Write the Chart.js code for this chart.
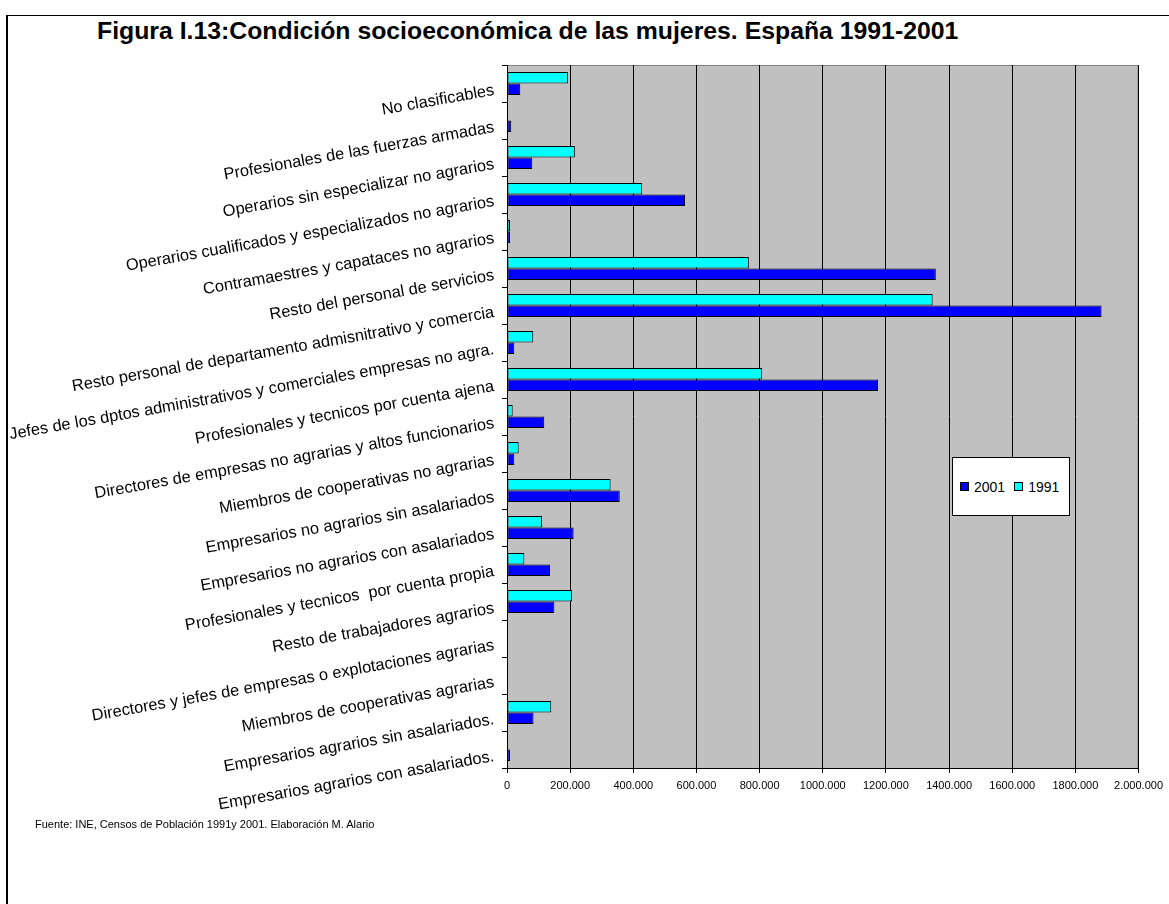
<!DOCTYPE html>
<html>
<head>
<meta charset="utf-8">
<script src="https://cdn.jsdelivr.net/npm/chart.js@4.4.0/dist/chart.umd.min.js"></script>
<style>
  body { margin: 0; background: #fff; width: 1169px; height: 904px; overflow: hidden; position: relative; font-family: "Liberation Sans", Arial, sans-serif; }
  #frame { position: absolute; left: 6px; top: 15px; width: 1300px; height: 1000px; border-left: 2px solid #000; border-top: 1px solid #000; }
  #title { position: absolute; left: 97px; top: 17px; font-weight: bold; font-size: 24.8px; white-space: nowrap; }
  #chart { position: absolute; left: 0; top: 0; }
  #legend { position: absolute; left: 952px; top: 457px; width: 118px; height: 59px; box-sizing: border-box; border: 1px solid #000; background: #fff; display: flex; align-items: center; padding-left: 7px; font-size: 14px; }
  #legend span.item { display: flex; align-items: center; margin-right: 9px; }
  #legend i { display: inline-block; width: 7px; height: 7px; border: 1px solid #000; margin-right: 5px; }
  #source { position: absolute; left: 35px; top: 818px; font-size: 11px; white-space: nowrap; }
</style>
</head>
<body>
<div id="frame"></div>
<div id="title">Figura I.13:Condición socioeconómica de las mujeres. España 1991-2001</div>
<canvas id="chart" width="1169" height="904"></canvas>
<div id="legend"></div>
<div id="source">Fuente: INE, Censos de Población 1991y 2001. Elaboración M. Alario</div>
<script>
'use strict';

const categories = [
    'No clasificables',
    'Profesionales de las fuerzas armadas',
    'Operarios sin especializar no agrarios',
    'Operarios cualificados y especializados no agrarios',
    'Contramaestres y capataces no agrarios',
    'Resto del personal de servicios',
    'Resto personal de departamento admisnitrativo y comercia',
    'Jefes de los dptos administrativos y comerciales empresas no agra.',
    'Profesionales y tecnicos por cuenta ajena',
    'Directores de empresas no agrarias y altos funcionarios',
    'Miembros de cooperativas no agrarias',
    'Empresarios no agrarios sin asalariados',
    'Empresarios no agrarios con asalariados',
    'Profesionales y tecnicos  por cuenta propia',
    'Resto de trabajadores agrarios',
    'Directores y jefes de empresas o explotaciones agrarias',
    'Miembros de cooperativas agrarias',
    'Empresarios agrarios sin asalariados.',
    'Empresarios agrarios con asalariados.',
];
const values1991 = [193000, 0, 215000, 428000, 9500, 766000, 1348000, 83000, 808000, 18000, 37000, 328000, 111000, 55000, 206000, 0, 0, 140000, 0];
const values2001 = [42000, 13500, 80000, 564000, 9500, 1358000, 1883000, 23000, 1175000, 118000, 23000, 357000, 211000, 136000, 150000, 0, 0, 84000, 9500];
const xTickLabels = ['0', '200.000', '400.000', '600.000', '800.000', '1000.000', '1200.000', '1400.000', '1600.000', '1800.000', '2.000.000'];

// grey plot area like the old Excel chart
const plotBg = {
    id: 'plotBg',
    beforeDraw(chart) {
        const { ctx, chartArea: a } = chart;
        ctx.save();
        ctx.fillStyle = '#c0c0c0';
        ctx.fillRect(a.left, a.top, a.width, a.height);
        ctx.strokeStyle = '#808080';
        ctx.lineWidth = 1;
        ctx.strokeRect(a.left + 0.5, a.top + 0.5, a.width - 1, a.height);
        ctx.restore();
    },
};

const chart = new Chart(document.getElementById('chart'), {
    type: 'bar',
    data: {
        labels: categories,
        datasets: [
            { label: '1991', data: values1991, backgroundColor: '#00ffff', borderColor: '#000', borderWidth: 1, borderSkipped: false },
            { label: '2001', data: values2001, backgroundColor: '#0000ff', borderColor: '#000', borderWidth: 1, borderSkipped: false },
        ],
    },
    options: {
        responsive: false, animation: false, indexAxis: 'y',
        datasets: { bar: { categoryPercentage: 0.62, barPercentage: 1.0 } },
        layout: { padding: { top: 65, right: 27, bottom: 106, left: 0 } },
        plugins: { legend: { display: false }, tooltip: { enabled: false } },
        scales: {
            x: {
                type: 'linear', min: 0, max: 2000000,
                ticks: { stepSize: 200000, color: '#000', font: { family: 'Liberation Sans', size: 11 }, padding: 6, maxRotation: 0, autoSkip: false, callback: v => xTickLabels[Math.round(v / 200000)] },
                grid: { color: '#000', lineWidth: 1, tickLength: 5, tickColor: '#000' },
                border: { display: true, color: '#000' },
                afterFit: s => { s.height = 30; },
            },
            y: {
                ticks: { color: '#000', font: { family: 'Liberation Sans', size: 16.4 }, minRotation: 10, maxRotation: 10, padding: 8, labelOffset: 7, autoSkip: false },
                grid: { offset: true, drawOnChartArea: false, tickLength: 5, tickColor: '#000' },
                border: { display: true, color: '#000' },
                afterFit: s => { s.width = 507; },
            },
        },
    },
    plugins: [plotBg],
});

// legend box, 2001 first like the original
const legend = document.getElementById('legend');
chart.data.datasets.slice().reverse().forEach(ds => {
    const item = document.createElement('span');
    item.className = 'item';
    item.innerHTML = `<i style="background:${ds.backgroundColor}"></i>${ds.label}`;
    legend.appendChild(item);
});
</script>
</body>
</html>
